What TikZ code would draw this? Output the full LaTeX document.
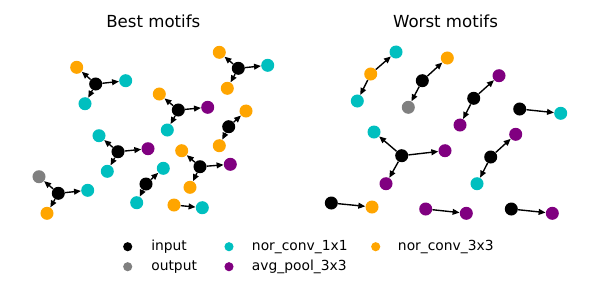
\documentclass[tikz,border=0pt]{standalone}
\usepackage{fontspec}
\setmainfont{DejaVu Sans}
\usetikzlibrary{arrows.meta}
\definecolor{cinp}{HTML}{000000}
\definecolor{cout}{HTML}{808080}
\definecolor{cone}{HTML}{00BFBF}
\definecolor{cthree}{HTML}{FFA500}
\definecolor{cpool}{HTML}{800080}
\begin{document}
\begin{tikzpicture}[x=0.01in, y=-0.01in,
  op/.style={circle, inner sep=0pt, minimum size=9.4pt},
  inp/.style={op, fill=cinp}, outp/.style={op, fill=cout},
  one/.style={op, fill=cone}, three/.style={op, fill=cthree}, pool/.style={op, fill=cpool},
  edge/.style={-{Triangle[length=5pt, width=4.2pt]}, line width=1pt},
  key/.style={circle, inner sep=0pt, minimum size=6.6pt},
  keytext/.style={right, font=\fontsize{10}{12}\selectfont, inner sep=0pt}]
\useasboundingbox (0,0) rectangle (600,300);
% titles
\node[font=\fontsize{12}{14}\selectfont] (tbest) at (153.3,21) {Best motifs};
\node[font=\fontsize{12}{14}\selectfont] (tworst) at (445.5,21) {Worst motifs};
% best motifs
\node[inp] (a0) at (95.7,84) {};   \node[three] (a1) at (76.7,67.3) {};
\node[one] (a2) at (125.7,80.7) {}; \node[one] (a3) at (85,103.7) {};
\node[inp] (b0) at (238.3,68.3) {}; \node[three] (b1) at (219.3,52.3) {};
\node[one] (b2) at (267.7,65.3) {}; \node[three] (b3) at (227.3,88.3) {};
\node[inp] (c0) at (178.3,110) {};  \node[three] (c1) at (159.3,94) {};
\node[pool] (c2) at (207.7,107.3) {}; \node[one] (c3) at (167.3,130) {};
\node[inp] (d0) at (228.7,126.7) {}; \node[three] (d1) at (246,111) {};
\node[three] (d2) at (219.3,145.7) {};
\node[inp] (e0) at (118,151.7) {};  \node[one] (e1) at (99,135.7) {};
\node[pool] (e2) at (148,148.7) {}; \node[one] (e3) at (107.3,171.3) {};
\node[inp] (f0) at (200,166.7) {};  \node[three] (f1) at (181.7,150.7) {};
\node[pool] (f2) at (230.3,164.3) {}; \node[three] (f3) at (190,187.3) {};
\node[inp] (g0) at (146,184) {};    \node[one] (g1) at (163.3,168.3) {};
\node[one] (g2) at (136.7,202.7) {};
\node[inp] (h0) at (58.3,193.3) {}; \node[outp] (h1) at (39,176.7) {};
\node[one] (h2) at (87.7,190.3) {}; \node[three] (h3) at (47,213.3) {};
\node[three] (i0) at (174,205) {};  \node[one] (i1) at (202.3,207.7) {};
\foreach \g in {a,b,c,e,f,h} {
  \foreach \k in {1,2,3} \draw[edge] (\g0) -- (\g\k);
}
\foreach \g in {d,g} {
  \foreach \k in {1,2} \draw[edge] (\g0) -- (\g\k);
}
\draw[edge] (i0) -- (i1);
% worst motifs
\node[three] (p0) at (370.7,74) {}; \node[one] (p1) at (396,52) {};
\node[one] (p2) at (357.3,101) {};
\node[inp] (q0) at (422.3,80.7) {}; \node[three] (q1) at (447.3,58) {};
\node[outp] (q2) at (408.3,107.3) {};
\node[inp] (r0) at (473.7,98.3) {}; \node[pool] (r1) at (499,75.7) {};
\node[pool] (r2) at (460,125) {};
\node[inp] (s0) at (519.7,109) {};  \node[one] (s1) at (560.7,113.3) {};
\node[inp] (t0) at (401.7,155.7) {}; \node[one] (t1) at (374,132) {};
\node[pool] (t2) at (445,150.7) {}; \node[pool] (t3) at (386,183.7) {};
\node[inp] (u0) at (490.7,157) {};  \node[pool] (u1) at (515.7,134.3) {};
\node[one] (u2) at (477,183.7) {};
\node[inp] (v0) at (331.3,203) {};  \node[three] (v1) at (372,207) {};
\node[pool] (w0) at (425.7,209) {}; \node[pool] (w1) at (466.3,213.3) {};
\node[inp] (z0) at (511.3,209) {};  \node[pool] (z1) at (552.3,213.3) {};
\foreach \g in {p,q,r,u} {
  \foreach \k in {1,2} \draw[edge] (\g0) -- (\g\k);
}
\foreach \k in {1,2,3} \draw[edge] (t0) -- (t\k);
\foreach \g in {s,v,w,z} \draw[edge] (\g0) -- (\g1);
% legend
\node[key, fill=cinp] (kinp) at (127.7,246.7) {};
\node[keytext] (linp) at (151,246.7) {input};
\node[key, fill=cout] (kout) at (127.7,266.7) {};
\node[keytext] (lout) at (151,266.7) {output};
\node[key, fill=cone] (kone) at (229,246.7) {};
\node[keytext] (lone) at (251.7,246.7) {nor\_conv\_1x1};
\node[key, fill=cpool] (kpool) at (229,266.7) {};
\node[keytext] (lpool) at (251.7,266.7) {avg\_pool\_3x3};
\node[key, fill=cthree] (kthree) at (375.7,246.7) {};
\node[keytext] (lthree) at (397.7,246.7) {nor\_conv\_3x3};
\end{tikzpicture}
\end{document}
